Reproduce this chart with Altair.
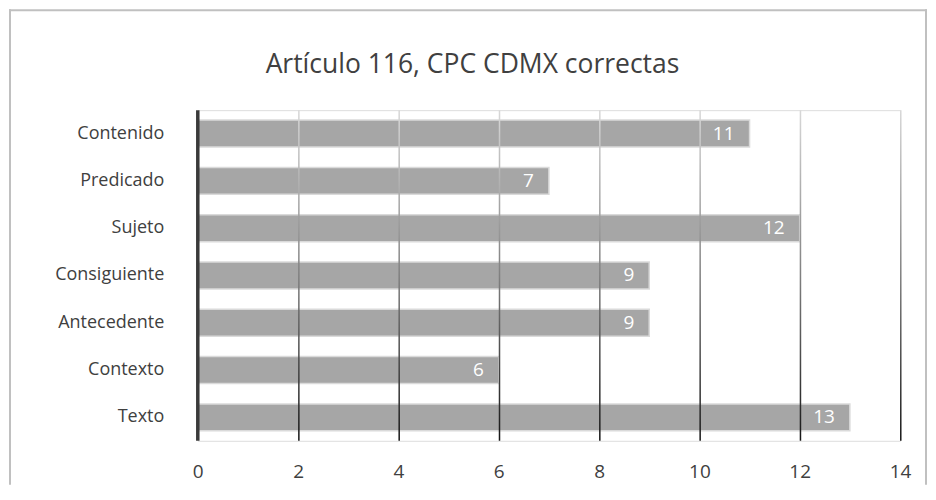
import altair as alt
import pandas as pd

title_text = "Artículo 116, CPC CDMX correctas"
categories = ["Contenido", "Predicado", "Sujeto", "Consiguiente", "Antecedente", "Contexto", "Texto"]
values = [11, 7, 12, 9, 9, 6, 13]
ticks = [0, 2, 4, 6, 8, 10, 12, 14]

W, H = 703, 331
FONT = "Open Sans"
TXT = "#404040"

df = pd.DataFrame({"cat": categories, "val": values})
grid_df = pd.DataFrame({"g": ticks[1:]})
zero_df = pd.DataFrame({"g": [0]})
title_df = pd.DataFrame({"t": [title_text]})
frame_df = pd.DataFrame({"f": [1]})

x_scale = alt.Scale(domain=[ticks[0], ticks[-1]], nice=False, zero=True)
y_scale = alt.Scale(domain=categories, paddingInner=0.43, paddingOuter=0.21)

bars = alt.Chart(df).mark_bar(fill="#a6a6a6", stroke="#dadada", strokeWidth=1.5).encode(
    x=alt.X("val:Q", scale=x_scale,
            axis=alt.Axis(values=ticks, grid=False, ticks=False, domain=False,
                          labelFontSize=19, labelPadding=22, labelColor=TXT,
                          labelFont=FONT, labelFlush=False, labelBound=False,
                          labelOverlap=False, title=None)),
    y=alt.Y("cat:N", scale=y_scale, sort=categories,
            axis=alt.Axis(ticks=False, domain=False, labelFontSize=18,
                          labelPadding=34, labelColor=TXT, labelFont=FONT,
                          title=None)),
)

grad = alt.LinearGradient(
    gradient="linear", x1=0, y1=0, x2=0, y2=1,
    stops=[alt.GradientStop(color="#d8d8d8", offset=0),
           alt.GradientStop(color="#808080", offset=0.5),
           alt.GradientStop(color="#161616", offset=1)],
)

grid = alt.Chart(grid_df).transform_calculate(g2="datum.g + 0.03").mark_rect(
    fill=grad
).encode(x=alt.X("g:Q", scale=x_scale), x2="g2:Q")

zero_line = alt.Chart(zero_df).mark_rule(color="#3a3a3a", strokeWidth=3.5).encode(
    x=alt.X("g:Q", scale=x_scale)
)

labels = alt.Chart(df).mark_text(
    align="right", baseline="middle", dx=-15, fontSize=19, font=FONT, color="white"
).encode(
    x=alt.X("val:Q", scale=x_scale),
    y=alt.Y("cat:N", scale=y_scale, sort=categories),
    text="val:Q",
)

title = alt.Chart(title_df).mark_text(
    align="center", baseline="alphabetic", fontSize=26.5, font=FONT, color=TXT
).encode(x=alt.value(275), y=alt.value(-37), text="t:N")

# outer frame: left, top and right edges (bottom runs off the page)
frame_left = alt.Chart(frame_df).mark_rule(stroke="#c0c0c0", strokeWidth=2).encode(
    x=alt.value(-188), y=alt.value(-101), y2=alt.value(H + 44))
frame_top = alt.Chart(frame_df).mark_rule(stroke="#c0c0c0", strokeWidth=2).encode(
    x=alt.value(-189), x2=alt.value(W + 27), y=alt.value(-100))
frame_right = alt.Chart(frame_df).mark_rule(stroke="#c0c0c0", strokeWidth=2).encode(
    x=alt.value(W + 26), y=alt.value(-101), y2=alt.value(H + 44))

chart = alt.layer(frame_left, frame_top, frame_right, bars, grid, zero_line, labels, title).properties(
    width=W, height=H, padding=0
).configure_view(stroke=None).configure(background="white")

chart.save("out.html", embed_options={"renderer": "svg", "actions": False})
